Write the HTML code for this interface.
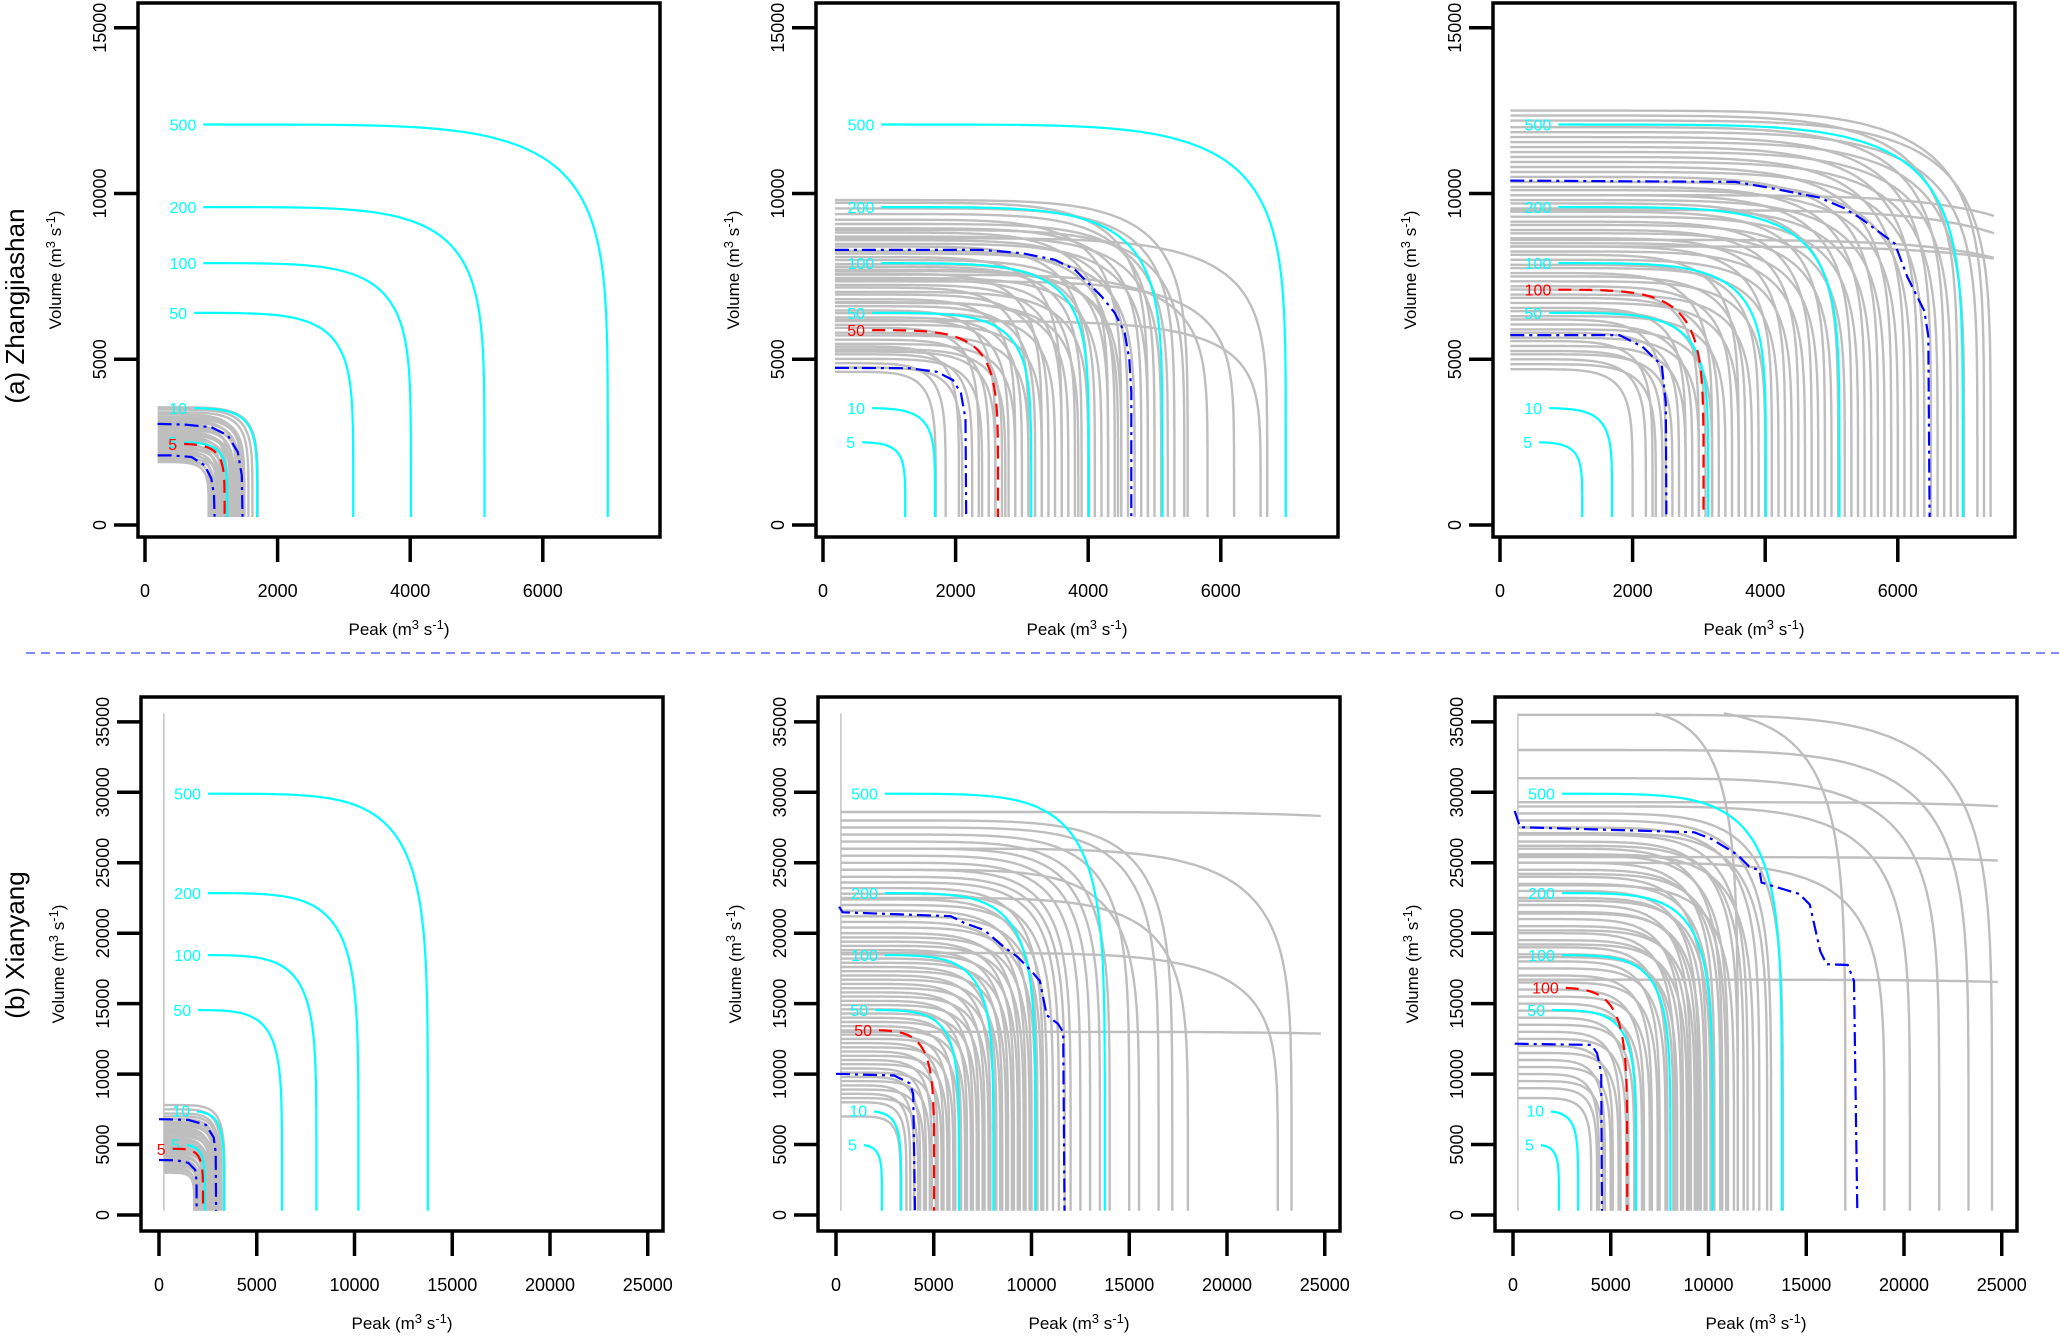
<!DOCTYPE html>
<html><head><meta charset="utf-8"><style>
html,body{margin:0;padding:0;background:#fff;}
svg{display:block;font-family:"Liberation Sans",Arial,sans-serif;}
</style></head><body>
<svg id="chart" width="2059" height="1340" viewBox="0 0 2059 1340" xmlns="http://www.w3.org/2000/svg">
<rect x="0" y="0" width="2059" height="1340" fill="#fff"/>
<text x="0" y="0" transform="translate(24,306) rotate(-90)" text-anchor="middle" font-size="26">(a) Zhangjiashan</text>
<text x="0" y="0" transform="translate(24,945) rotate(-90)" text-anchor="middle" font-size="26">(b) Xianyang</text>
<line x1="26" y1="653" x2="2059" y2="653" stroke="#3344ff" stroke-width="1.3" stroke-dasharray="9,6"/>
</svg>
<script>
// ---------- data ----------
const topXTicks = [0, 2000, 4000, 6000];
const topYTicks = [0, 5000, 10000, 15000];
const botXTicks = [0, 5000, 10000, 15000, 20000, 25000];
const botYTicks = [0, 5000, 10000, 15000, 20000, 25000, 30000, 35000];

// return-period isolines (cyan)
const rpLabels = ["5", "10", "50", "100", "200", "500"];
const topRpV = [2500, 3530, 6400, 7900, 9590, 12080];
const topRpP = [1240, 1690, 3140, 4010, 5120, 6980];
const topRpStart = [590, 740, 740, 880, 880, 880];
const botRpV = [5000, 7400, 14550, 18450, 22850, 29900];
const botRpP = [2350, 3330, 6290, 8050, 10200, 13750];
const botRpStart = [1430, 1950, 2000, 2500, 2500, 2500];

// gray simulated isolines per panel (volume level, peak)
const grayV1 = [1900,1950,2000,2050,2120,2180,2230,2290,2340,2400,2450,2510,2560,2600,2660,2710,2760,2820,2870,2930,2980,3040,3090,3150,3200,3260,3330,3400,3480,3550];
const grayP1 = [960,1010,990,1050,1100,1020,1080,1150,1120,1180,1090,1230,1160,1250,1200,1290,1310,1240,1350,1330,1400,1280,1430,1380,1470,1500,1450,1560,1620,1700];
const grayV2 = [4620,4750,4880,5010,5150,5230,5380,5460,5590,5720,5800,5950,6040,6180,6260,6390,6470,6600,6720,6810,6950,7030,7160,7240,7390,7450,7580,7660,7790,7870,7990,8080,8190,8270,8400,8480,8590,8700,8820,8950,9080,9210,9380,9550,9720,9800,6150,7350,8650,7550,5300,6700,7700,8900];
const grayP2 = [1700,2100,1850,2400,2250,2600,2050,2900,2500,3100,2700,2350,3300,2800,3000,3500,2600,3200,3700,2900,3400,4000,3100,3600,3800,4200,3300,4500,3900,4100,4300,3600,4700,4400,4000,4900,4600,5100,4300,4800,5200,4500,5000,5300,4900,5500,6600,6200,6700,5800,2750,3850,4450,5450];
const grayV3 = [4700,4850,5000,5150,5250,5400,5550,5650,5800,5900,6050,6200,6300,6450,6550,6700,6850,6950,7100,7200,7350,7500,7600,7750,7850,8000,8150,8250,8400,8500,8650,8800,8900,9050,9150,9300,9450,9550,9700,9800,9950,10100,10200,10350,10500,10650,10800,10950,11100,11250,11400,11550,11700,11850,12000,12200,12350,12500,9950,8600,8400,9500];
const grayP3 = [2000,2350,2200,2600,2450,2800,2300,3000,2700,3200,2900,2500,3400,3100,2800,3600,3300,3800,3000,3500,4000,3700,3200,4200,3900,4400,3600,4600,4100,4800,4300,5000,4500,5200,4700,5400,4900,5600,5100,5800,5300,6000,5500,6200,5700,6400,5900,6600,6100,6800,6300,7000,6500,7200,6700,7400,6900,7300,9000,9000,9500,8800];
const grayV4 = [3000,3150,3300,3450,3600,3750,3900,4050,4200,4350,4500,4650,4800,4950,5100,5250,5400,5550,5700,5850,6000,6150,6300,6450,6600,6800,7000,7200,7500,7800];
const grayP4 = [1800,1900,1850,2000,1950,2100,2050,2200,2150,2300,2250,2400,2350,2450,2500,2550,2450,2650,2600,2700,2750,2650,2850,2800,2900,2950,3050,3100,3200,3350];
const grayV5 = [7000,8000,8300,8600,8900,9200,9500,9800,10100,10400,10700,11000,11300,11600,11900,12200,12500,12800,13100,13400,13700,14000,14300,14600,14900,15200,15500,15800,16100,16400,16700,17000,17300,17600,17900,18200,18500,18800,19100,19400,19700,20000,20400,20800,21200,21600,22000,22400,22800,23200,23600,24000,24500,25000,25500,26000,26500,27000,27500,28000,28600,18600,22500,13000,26000,24500];
const grayP5 = [3300,3600,4200,3800,4500,4000,4800,4300,5100,4600,5400,4900,5700,5200,6000,5500,6300,5800,6600,6100,6900,6400,7200,6700,7500,7000,7800,7300,8100,7600,8400,7900,8700,8200,9000,8500,9300,8800,9600,9100,9900,9400,10200,9700,10500,10000,10800,10300,11100,10600,11400,11700,12000,12500,13000,13500,14000,15000,16500,17200,40000,22600,18000,40000,23300,15500];
const grayV6 = [8300,9000,9500,10000,10500,11000,11500,12000,12500,13000,13500,14000,14500,15000,15500,16000,16500,17000,17500,18000,18500,19000,19500,20000,20500,21000,21500,22000,22500,23000,23500,24000,24500,25000,25500,26000,26500,27000,27500,28000,28500,29000,26200,31000,24200,33000,22300,35500,20200,18300,27100,25600,23400,21400,19200,16700,25400,29300,25000,36000,36000];
const grayP6 = [4000,4300,4600,4400,5000,4700,5400,5100,5800,5500,6200,5900,6600,6300,7000,6700,7400,7100,7800,7500,8200,7900,8600,8300,9000,8700,9400,9100,9800,9500,10200,9900,10600,10300,11000,10700,11500,12000,12600,13200,13800,20300,11800,21800,10900,23300,10100,24500,9300,8400,13000,12300,11300,9600,8900,40000,40000,40000,19000,11500,17000];

// most-likely design isolines (red dashed)
const redLabels = ["5", "50", "100", "5", "50", "100"];
const redV = [2450, 5880, 7100, 4700, 13130, 16140];
const redP = [1200, 2640, 3070, 2250, 5020, 5840];
const redStart = [590, 740, 880, 700, 2200, 2700];

// confidence bounds (blue dot-dash) as read points [peak, volume]
const blueLow1 = [[190,2100],[400,2100],[700,2050],[900,1800],[1000,1400],[1040,900],[1050,250]];
const blueUp1 = [[190,3050],[600,3030],[1000,2950],[1250,2700],[1400,2200],[1460,1500],[1470,250]];
const blueLow2 = [[180,4740],[1300,4730],[1720,4620],[1960,4370],[2080,3980],[2150,3200],[2160,240]];
const blueUp2 = [[180,8300],[2400,8300],[3000,8200],[3500,8000],[3800,7700],[4000,7300],[4200,6900],[4400,6400],[4550,5800],[4620,5000],[4650,4000],[4650,240]];
const blueLow3 = [[155,5730],[1800,5730],[2150,5380],[2440,4810],[2500,3680],[2510,240]];
const blueUp3 = [[155,10390],[3550,10350],[3990,10200],[4815,9880],[5190,9560],[5450,9240],[5955,8490],[6145,7480],[6400,6460],[6460,5700],[6480,240]];
const blueLow4 = [[0,3900],[900,3880],[1500,3700],[1850,3200],[1920,2400],[1930,300]];
const blueUp4 = [[0,6800],[1500,6750],[2400,6400],[2800,5500],[2900,4400],[2920,300]];
const blueLow5 = [[0,10020],[2970,9900],[3770,9350],[3950,8600],[4040,300]];
const blueUp5 = [[160,21880],[340,21480],[5870,21210],[6550,20730],[7580,20220],[8600,19010],[9290,18320],[9970,17350],[10430,16600],[10780,14180],[11350,13580],[11620,12980],[11690,300]];
const blueLow6 = [[86,12160],[4020,12070],[4300,11470],[4510,10110],[4550,300]];
const blueUp6 = [[86,28670],[365,27520],[9280,27160],[10140,26700],[11210,25800],[11530,25500],[12070,24740],[12610,24440],[12710,23600],[13570,23230],[14650,22780],[15180,22030],[15720,18710],[16040,17800],[17120,17740],[17440,16600],[17610,300]];

// ---------- layout ----------
const NS = "http://www.w3.org/2000/svg";
const svg = document.getElementById("chart");
const panels = [
 {bx:138,by:3,row:0,gV:grayV1,gP:grayP1,gStart:190,bl:blueLow1,bu:blueUp1,ri:0},
 {bx:816,by:3,row:0,gV:grayV2,gP:grayP2,gStart:180,bl:blueLow2,bu:blueUp2,ri:1},
 {bx:1493,by:3,row:0,gV:grayV3,gP:grayP3,gStart:155,bl:blueLow3,bu:blueUp3,ri:2},
 {bx:141,by:697,row:1,gV:grayV4,gP:grayP4,gStart:250,bl:blueLow4,bu:blueUp4,ri:3},
 {bx:818,by:697,row:1,gV:grayV5,gP:grayP5,gStart:250,bl:blueLow5,bu:blueUp5,ri:4},
 {bx:1495,by:697,row:1,gV:grayV6,gP:grayP6,gStart:250,bl:blueLow6,bu:blueUp6,ri:5}
];
const W = 522, H = 534;

function el(tag, attrs, parent){
  const e = document.createElementNS(NS, tag);
  for (const k in attrs) e.setAttribute(k, attrs[k]);
  (parent||svg).appendChild(e);
  return e;
}
// superellipse isoline (x/P)^n + (y/V)^n = 1
function isoline(V, P, x0, yEnd, xmax, ymax){
  const n = 6, pts = [];
  const yOf = x => V*Math.pow(Math.max(0, 1 - Math.pow(x/P, n)), 1/n);
  const xOf = y => P*Math.pow(Math.max(0, 1 - Math.pow(y/V, n)), 1/n);
  const xs = Math.max(x0, 0), xe = Math.min(P*0.75, xmax);
  for (let i=0;i<=60;i++){
    const x = xs + (xe-xs)*i/60;
    const y = yOf(x);
    if (y > ymax) continue;
    if (x >= xs && x <= xmax) pts.push([x,y]);
  }
  const yStart = yOf(P*0.75);
  for (let i=1;i<=80;i++){
    const y = yStart - (yStart - yEnd)*i/80;
    const x = xOf(y);
    if (x > xmax || y > ymax || x < xs) continue;
    pts.push([x,y]);
  }
  if (yOf(xs) > ymax){
    const xt = xOf(ymax);
    if (xt <= xmax) pts.unshift([xt, ymax]);
  }
  if (P > xmax && yOf(xmax) >= yEnd) pts.push([xmax, yOf(xmax)]);
  return pts;
}

panels.forEach((p, pi) => {
  const top = p.row === 0;
  const x0 = p.bx + (top ? 7 : 18);
  const xs = top ? 0.0663 : 0.01955;
  const y0 = top ? 525 : 1215;
  const ys = top ? 0.03315 : 0.01409;
  const X = v => x0 + v*xs, Y = v => y0 - v*ys;
  const xmax = top ? 7450 : 24800, ymax = top ? 12600 : 35600, yEnd = top ? 240 : 300;
  const g = el("g", {});
  
  
  const toD = pts => pts.map((q,i)=>(i?"L":"M")+X(q[0]).toFixed(1)+","+Y(q[1]).toFixed(1)).join("");

  const gg = el("g", {fill:"none", stroke:"#bebebe", "stroke-width":"2.4"}, g);
  
  
  p.gV.forEach((v, i) => {
    const path = el("path", {d: toD(isoline(v, p.gP[i], p.gStart, yEnd, xmax, ymax))}, gg);
    
    
  });
  if (!top){
    const vl = el("path", {d: toD([[250,yEnd],[250,35600]]), "stroke-width":"1.4"}, gg);
    
    
  }

  const rV = top ? topRpV : botRpV, rP = top ? topRpP : botRpP, rS = top ? topRpStart : botRpStart;
  rpLabels.forEach((lab, i) => {
    const path = el("path", {d: toD(isoline(rV[i], rP[i], rS[i], yEnd, xmax, ymax)), fill:"none", stroke:"#00ffff", "stroke-width":"2.2"}, g);
    
    
    const t = el("text", {x: X(rS[i]) - 7, y: Y(rV[i]) + 6, "text-anchor":"end", "font-size":"16", fill:"#00ffff"}, g);
    t.textContent = lab;
    
    
  });

  const ri = p.ri;
  const rp = el("path", {d: toD(isoline(redV[ri], redP[ri], redStart[ri], yEnd, xmax, ymax)), fill:"none", stroke:"#ff0000", "stroke-width":"2.2", "stroke-dasharray":"13,8"}, g);
  
  
  const rt = el("text", {x: X(redStart[ri]) - 7, y: Y(redV[ri]) + 6, "text-anchor":"end", "font-size":"16", fill:"#ff0000"}, g);
  rt.textContent = redLabels[ri];
  
  

  [p.bl, p.bu].forEach((arr, k) => {
    const bp = el("path", {d: toD(arr), fill:"none", stroke:"#0000ff", "stroke-width":"2.2", "stroke-dasharray":"14,5,3,5"}, g);
    
    
  });

  const box = el("rect", {x:p.bx, y:p.by, width:W, height:H, fill:"none", stroke:"#000", "stroke-width":"3.5"}, g);
  
  

  const xt = top ? topXTicks : botXTicks, yt = top ? topYTicks : botYTicks;
  const bottom = p.by + H;
  xt.forEach(v => {
    const tl = el("line", {x1:X(v), y1:bottom+1, x2:X(v), y2:bottom+25, stroke:"#000", "stroke-width":"3.5"}, g);
    
    
    const tx = el("text", {x:X(v), y: bottom+60, "text-anchor":"middle", "font-size":"18"}, g);
    tx.textContent = v;
    
    
  });
  yt.forEach(v => {
    const tl = el("line", {x1:p.bx-24, y1:Y(v), x2:p.bx-1, y2:Y(v), stroke:"#000", "stroke-width":"3.5"}, g);
    
    
    const tx = el("text", {x:0, y:0, transform:"translate("+(p.bx-32)+","+Y(v)+") rotate(-90)", "text-anchor":"middle", "font-size":"18"}, g);
    tx.textContent = v;
    
    
  });
  const xtitle = el("text", {x:p.bx+W/2, y: bottom+98, "text-anchor":"middle", "font-size":"17"}, g);
  xtitle.innerHTML = 'Peak (m<tspan dy="-6" font-size="13">3</tspan><tspan dy="6"> s</tspan><tspan dy="-6" font-size="13">-1</tspan><tspan dy="6">)</tspan>';
  
  
  const ytitle = el("text", {x:0, y:0, transform:"translate("+(p.bx-77)+","+(p.by+H/2)+") rotate(-90)", "text-anchor":"middle", "font-size":"17"}, g);
  ytitle.innerHTML = 'Volume (m<tspan dy="-6" font-size="13">3</tspan><tspan dy="6"> s</tspan><tspan dy="-6" font-size="13">-1</tspan><tspan dy="6">)</tspan>';
  
  
});
</script>
</body></html>
